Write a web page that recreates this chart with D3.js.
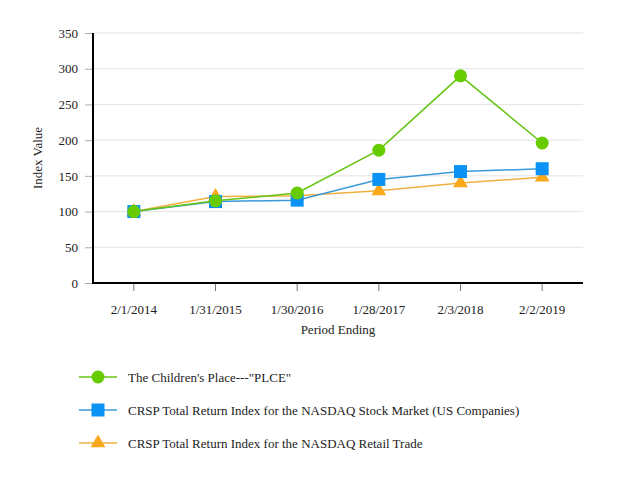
<!DOCTYPE html>
<html lang="en">
<head>
<meta charset="UTF-8">
<title>Index Value</title>
<script src="https://d3js.org/d3.v7.min.js"></script>
<style>
    body { margin: 0; background: #fff; }
</style>
</head>
<body>
<svg width="617" height="480"></svg>
<script>
    const periods = ["2/1/2014", "1/31/2015", "1/30/2016", "1/28/2017", "2/3/2018", "2/2/2019"];
    const plce = [100, 115, 126, 186, 290, 196];
    const nasdaqMarket = [100, 114, 116, 145, 156, 160];
    const nasdaqRetail = [100, 121, 122, 129, 140, 148];
    const yTicks = [0, 50, 100, 150, 200, 250, 300, 350];

    const FONT = "Liberation Serif, DejaVu Serif, Times New Roman, serif";

    const series = [
        { name: "The Children's Place---\"PLCE\"", values: plce, line: "#66c414", fill: "#66cc00", shape: "circle" },
        { name: "CRSP Total Return Index for the NASDAQ Stock Market (US Companies)", values: nasdaqMarket, line: "#3a9ad9", fill: "#0a93f5", shape: "square" },
        { name: "CRSP Total Return Index for the NASDAQ Retail Trade", values: nasdaqRetail, line: "#f0b040", fill: "#f9a81c", shape: "triangle" }
    ];

    const svg = d3.select("svg");
    const margin = { top: 33, left: 93, right: 34, bottom: 197 };
    const plotW = 617 - margin.left - margin.right;
    const plotH = 480 - margin.top - margin.bottom;

    const x = d3.scaleBand().domain(periods).range([0, plotW]);
    const y = d3.scaleLinear().domain([0, 350]).range([plotH, 0]);

    const g = svg.append("g").attr("transform", `translate(${margin.left},${margin.top})`);

    // gridlines
    g.selectAll(".grid").data(yTicks.filter(d => d > 0)).enter().append("line")
        .attr("x1", 0).attr("x2", plotW)
        .attr("y1", d => y(d)).attr("y2", d => y(d))
        .attr("stroke", "#e4e4e4").attr("stroke-width", 1);

    // y axis
    const yAxis = g.append("g").call(d3.axisLeft(y).tickValues(yTicks).tickSize(8).tickPadding(7))
        .attr("font-family", FONT).attr("font-size", 13);
    yAxis.select(".domain").remove();
    yAxis.selectAll(".tick line").attr("stroke", "#aaa");
    yAxis.selectAll(".tick text").attr("fill", "#222");

    // x axis
    const xAxis = g.append("g").attr("transform", `translate(0,${plotH})`)
        .call(d3.axisBottom(x).tickSize(8).tickPadding(14))
        .attr("font-family", FONT).attr("font-size", 13);
    xAxis.select(".domain").remove();
    xAxis.selectAll(".tick line").attr("stroke", "#777");
    xAxis.selectAll(".tick text").attr("fill", "#222");

    g.append("line").attr("x1", 0).attr("x2", 0).attr("y1", 0).attr("y2", plotH)
        .attr("stroke", "#000").attr("stroke-width", 2);
    g.append("line").attr("x1", -1).attr("x2", plotW).attr("y1", plotH).attr("y2", plotH)
        .attr("stroke", "#000").attr("stroke-width", 2);

    // axis titles
    svg.append("text")
        .attr("transform", `translate(42,${margin.top + plotH / 2}) rotate(-90)`)
        .attr("text-anchor", "middle").attr("font-family", FONT).attr("font-size", 13).attr("fill", "#222")
        .text("Index Value");
    svg.append("text")
        .attr("x", margin.left + plotW / 2).attr("y", 334)
        .attr("text-anchor", "middle").attr("font-family", FONT).attr("font-size", 13).attr("fill", "#222")
        .text("Period Ending");

    const cx = d => x(d) + x.bandwidth() / 2;

    function marker(sel, s) {
        if (s.shape === "circle") {
            sel.append("circle").attr("r", 6.5).attr("fill", s.fill);
        } else if (s.shape === "square") {
            sel.append("rect").attr("x", -6.5).attr("y", -6.5).attr("width", 13).attr("height", 13).attr("fill", s.fill);
        } else {
            sel.append("path").attr("d", d3.symbol().type(d3.symbolTriangle).size(95)()).attr("fill", s.fill);
        }
    }

    const line = d3.line().x((d, i) => cx(periods[i])).y(d => y(d));

    // retail first, then market, PLCE on top
    [2, 1, 0].forEach(k => {
        const s = series[k];
        g.append("path").datum(s.values).attr("d", line)
            .attr("fill", "none").attr("stroke", s.line).attr("stroke-width", 1.5);
    });
    [2, 1, 0].forEach(k => {
        const s = series[k];
        s.values.forEach((v, i) => {
            const m = g.append("g").attr("transform", `translate(${cx(periods[i])},${y(v)})`);
            marker(m, s);
        });
    });

    // legend
    const legend = svg.append("g").attr("transform", "translate(79,377)");
    series.forEach((s, i) => {
        const row = legend.append("g").attr("transform", `translate(0,${i * 33})`);
        row.append("line").attr("x1", 0).attr("x2", 38).attr("stroke", s.line).attr("stroke-width", 1.5);
        const m = row.append("g").attr("transform", "translate(19,0)");
        marker(m, s);
        row.append("text").attr("x", 49).attr("y", 4.5)
            .attr("font-family", FONT).attr("font-size", 13).attr("fill", "#222").text(s.name);
    });
</script>
</body>
</html>
